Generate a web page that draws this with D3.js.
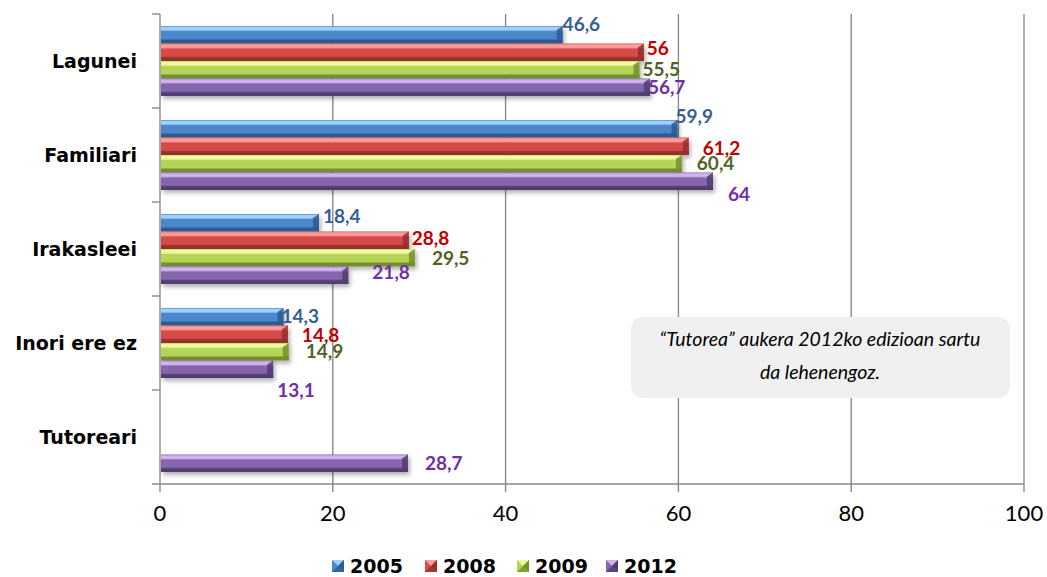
<!DOCTYPE html>
<html>
<head>
<meta charset="utf-8">
<script src="https://cdn.jsdelivr.net/npm/d3@7"></script>
<style>
  body { margin: 0; background: #fff; }
  svg { display: block; font-family: Lato, 'Open Sans', sans-serif; }
</style>
</head>
<body>
<svg id="chart"></svg>
<script>
// categories and series
const categories = ['Lagunei', 'Familiari', 'Irakasleei', 'Inori ere ez', 'Tutoreari'];
const years = ['2005', '2008', '2009', '2012'];
const values2005 = [46.6, 59.9, 18.4, 14.3, null];
const values2008 = [56, 61.2, 28.8, 14.8, null];
const values2009 = [55.5, 60.4, 29.5, 14.9, null];
const values2012 = [56.7, 64, 21.8, 13.1, 28.7];
const xTicks = [0, 20, 40, 60, 80, 100];
const noteLines = ['\u201cTutorea\u201d aukera 2012ko edizioan sartu', 'da lehenengoz.'];

// label nudges (px, relative to bar end / bar centre) as Excel placed them
const nudge2005 = [[0, -10], [-2, -12], [4, -6], [-2, 0], null];
const nudge2008 = [[3, -4], [14, 2], [3, -2], [14, 1], null];
const nudge2009 = [[3, 0], [15, 0], [17, 1], [17, 0], null];
const nudge2012 = [[-2, 0], [15, 13], [24, -3], [4, 21], [17, 0]];

const seriesValues = [values2005, values2008, values2009, values2012];
const seriesNudges = [nudge2005, nudge2008, nudge2009, nudge2012];

const colors = [
  { light: '#9fd0f7', base: '#4c87cb', dark: '#2c5b93', text: '#376092' },
  { light: '#ff9f9b', base: '#d64c48', dark: '#93302d', text: '#c00000' },
  { light: '#effa9e', base: '#b6d558', dark: '#738f2e', text: '#4f6228' },
  { light: '#d0b4ee', base: '#8566ad', dark: '#513c70', text: '#7030a0' },
];

const width = 1047, height = 577;
const margin = { top: 14, right: 23, bottom: 93, left: 160 };
const heavyFont = "'DejaVu Sans', sans-serif";

const svg = d3.select('#chart').attr('width', width).attr('height', height);
const defs = svg.append('defs');

colors.forEach((c, i) => {
  const g = defs.append('linearGradient')
    .attr('id', 'grad' + i).attr('x1', 0).attr('x2', 0).attr('y1', 0).attr('y2', 1);
  [[0, c.base], [0.08, c.light], [0.22, c.light], [0.32, c.base],
   [0.72, c.base], [0.82, c.dark], [1, c.dark]].forEach(([o, col]) =>
    g.append('stop').attr('offset', o).attr('stop-color', col));
});

const shadow = defs.append('filter').attr('id', 'shadow')
  .attr('x', '-5%').attr('y', '-30%').attr('width', '110%').attr('height', '180%');
shadow.append('feDropShadow').attr('dx', 2).attr('dy', 3).attr('stdDeviation', 2)
  .attr('flood-color', '#000').attr('flood-opacity', 0.3);

const x = d3.scaleLinear().domain([0, 100]).range([margin.left, width - margin.right]);
const y = d3.scaleBand().domain(categories).range([margin.top, height - margin.bottom]);
const inner = d3.scaleBand().domain(years).range([12, y.bandwidth() - 12]);

// gridlines
svg.append('g')
  .selectAll('line')
  .data(xTicks.slice(1))
  .join('line')
  .attr('x1', d => x(d)).attr('x2', d => x(d))
  .attr('y1', margin.top).attr('y2', height - margin.bottom + 8)
  .attr('stroke', '#8a8a8a').attr('stroke-width', 1.4);

// x axis line + ticks
const xAxisY = height - margin.bottom;
svg.append('line')
  .attr('x1', margin.left - 8).attr('x2', x(100))
  .attr('y1', xAxisY).attr('y2', xAxisY)
  .attr('stroke', '#8a8a8a').attr('stroke-width', 1.4);
svg.append('line')
  .attr('x1', x(0)).attr('x2', x(0))
  .attr('y1', xAxisY).attr('y2', xAxisY + 8)
  .attr('stroke', '#8a8a8a').attr('stroke-width', 1.4);

svg.append('g')
  .selectAll('text')
  .data(xTicks)
  .join('text')
  .attr('x', d => x(d)).attr('y', xAxisY + 37)
  .attr('text-anchor', 'middle')
  .attr('font-size', 22)
  .attr('fill', '#000')
  .text(d => d);

// y axis line + category ticks
svg.append('line')
  .attr('x1', x(0)).attr('x2', x(0))
  .attr('y1', margin.top).attr('y2', xAxisY)
  .attr('stroke', '#8a8a8a').attr('stroke-width', 1.4);
svg.append('g')
  .selectAll('line')
  .data(categories)
  .join('line')
  .attr('x1', x(0) - 8).attr('x2', x(0))
  .attr('y1', d => y(d)).attr('y2', d => y(d))
  .attr('stroke', '#8a8a8a').attr('stroke-width', 1.4);

svg.append('g')
  .selectAll('text')
  .data(categories)
  .join('text')
  .attr('x', 137)
  .attr('y', d => y(d) + y.bandwidth() / 2)
  .attr('dy', '0.35em')
  .attr('text-anchor', 'end')
  .attr('font-family', heavyFont)
  .attr('font-size', 19)
  .attr('font-weight', 'bold')
  .attr('fill', '#000')
  .text(d => d);

// bars
seriesValues.forEach((vals, s) => {
  const rows = categories.map((c, i) => ({ cat: c, v: vals[i], n: seriesNudges[s][i] }))
    .filter(d => d.v !== null);
  const g = svg.append('g');
  const barY = d => y(d.cat) + inner(years[s]);
  const h = inner.bandwidth();

  g.selectAll('rect')
    .data(rows)
    .join('rect')
    .attr('x', x(0) + 1)
    .attr('y', barY)
    .attr('width', d => x(d.v) - x(0) - 1)
    .attr('height', h)
    .attr('fill', `url(#grad${s})`)
    .attr('filter', 'url(#shadow)');

  // bevelled right end
  g.selectAll('path')
    .data(rows)
    .join('path')
    .attr('d', d => {
      const x1 = x(d.v), y0 = barY(d);
      return `M${x1 - 6},${y0 + 4}L${x1},${y0}L${x1},${y0 + h}L${x1 - 6},${y0 + h - 4}Z`;
    })
    .attr('fill', colors[s].dark)
    .attr('opacity', 0.85);

  g.selectAll('text')
    .data(rows)
    .join('text')
    .attr('x', d => x(d.v) + d.n[0])
    .attr('y', d => barY(d) + h / 2 + d.n[1])
    .attr('dy', '0.35em')
    .attr('font-size', 19)
    .attr('font-weight', 'bold')
    .attr('fill', colors[s].text)
    .text(d => String(d.v).replace('.', ','));
});

// note box
const note = svg.append('g');
note.append('rect')
  .attr('x', 631).attr('y', 317).attr('width', 379).attr('height', 81)
  .attr('rx', 12)
  .attr('fill', '#f0f0f0');
note.selectAll('text')
  .data(noteLines)
  .join('text')
  .attr('x', 820)
  .attr('y', (d, i) => 339 + i * 33)
  .attr('dy', '0.35em')
  .attr('text-anchor', 'middle')
  .attr('font-size', 19.5)
  .attr('font-style', 'italic')
  .attr('fill', '#000')
  .text(d => d);

// legend
const legendX = [332, 425, 517, 606];
const legend = svg.append('g');
years.forEach((yr, i) => {
  const lg = legend.append('g').attr('transform', `translate(${legendX[i]},560)`);
  const c = colors[i], s = 12;
  lg.append('rect').attr('width', s).attr('height', s).attr('fill', c.base);
  lg.append('path').attr('d', `M0,0L${s},0L${s / 2},${s / 2}Z`).attr('fill', c.light);
  lg.append('path').attr('d', `M${s},0L${s},${s}L${s / 2},${s / 2}Z`).attr('fill', c.dark);
  lg.append('path').attr('d', `M0,${s}L${s},${s}L${s / 2},${s / 2}Z`).attr('fill', c.dark).attr('opacity', 0.8);
  lg.append('text')
    .attr('x', 18).attr('y', 6).attr('dy', '0.35em')
    .attr('font-family', heavyFont)
    .attr('font-size', 19).attr('font-weight', 'bold')
    .attr('fill', '#000')
    .text(yr);
});
</script>
</body>
</html>
